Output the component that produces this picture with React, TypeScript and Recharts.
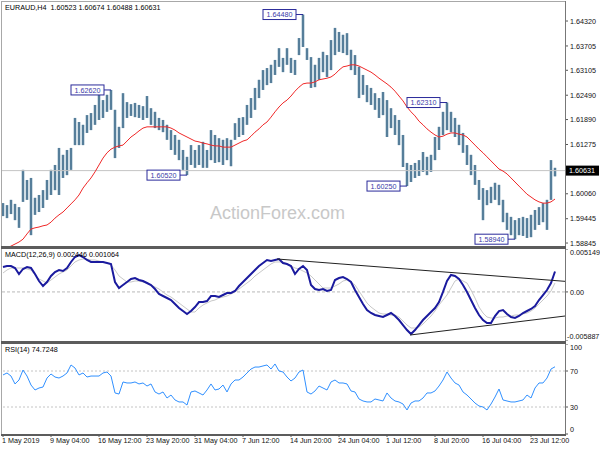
import { ComposedChart, Bar, Line, XAxis, YAxis, ReferenceLine, ReferenceDot } from "recharts";

// EURAUD H4, one entry per bar (left to right)
const highs = [
  1.5983, 1.5978, 1.5991, 1.5981, 1.5973, 1.6065, 1.604, 1.6045, 1.5996, 1.6003,
  1.6015, 1.604, 1.6065, 1.6077, 1.6119, 1.6102, 1.6114, 1.6119, 1.6193, 1.6183,
  1.6176, 1.62, 1.6205, 1.6225, 1.625, 1.6237, 1.625, 1.6262, 1.6213, 1.6171,
  1.6254, 1.6232, 1.6227, 1.623, 1.6225, 1.6222, 1.6247, 1.6217, 1.6208, 1.6193,
  1.6188, 1.6176, 1.6163, 1.6151, 1.6139, 1.6114, 1.6097, 1.6126, 1.6114, 1.6126,
  1.6134, 1.6114, 1.6163, 1.6151, 1.6143, 1.6139, 1.6143, 1.6139, 1.618, 1.6193,
  1.6195, 1.6225, 1.6242, 1.6267, 1.6287, 1.6311, 1.6316, 1.6324, 1.6336, 1.6365,
  1.6341, 1.6365, 1.6341, 1.6336, 1.639, 1.6448, 1.6365, 1.6343, 1.6324, 1.6341,
  1.6356, 1.6348, 1.6385, 1.6415, 1.6405, 1.6398, 1.6402, 1.6361, 1.6348, 1.6319,
  1.6299, 1.6274, 1.6267, 1.6254, 1.6242, 1.6257, 1.6237, 1.6217, 1.62, 1.6188,
  1.6151, 1.6082, 1.6077, 1.6082, 1.6089, 1.6109, 1.6097, 1.6102, 1.6146, 1.6171,
  1.6208, 1.6231, 1.6208, 1.6193, 1.6176, 1.6156, 1.6126, 1.6102, 1.6077, 1.604,
  1.602, 1.6015, 1.6023, 1.6033, 1.6028, 1.5991, 1.5959, 1.5949, 1.5941, 1.5946,
  1.5949, 1.5946, 1.5954, 1.5966, 1.5973, 1.5983, 1.5991, 1.6089, 1.607,
];
const lows = [
  1.5951, 1.5946, 1.5956, 1.5941, 1.5922, 1.5986, 1.5991, 1.5904, 1.5954, 1.5961,
  1.5971, 1.5991, 1.6003, 1.6015, 1.6003, 1.6045, 1.6052, 1.6065, 1.6126, 1.6126,
  1.6126, 1.6156, 1.6163, 1.6176, 1.6188, 1.6193, 1.6208, 1.6213, 1.6094, 1.6119,
  1.6168, 1.6193, 1.6198, 1.6195, 1.6193, 1.6188, 1.6193, 1.6176, 1.6168, 1.6163,
  1.6158, 1.6139, 1.6114, 1.6102, 1.6089, 1.6065, 1.6052, 1.6077, 1.607, 1.6077,
  1.607, 1.607, 1.6089, 1.6082, 1.6084, 1.6077, 1.6089, 1.6074, 1.6139, 1.6146,
  1.6151, 1.6176, 1.6193, 1.6213, 1.6242, 1.6262, 1.6274, 1.6279, 1.6299, 1.6319,
  1.6306, 1.6324, 1.6304, 1.6299, 1.6348, 1.6368, 1.6336, 1.6267, 1.6269, 1.6287,
  1.6306, 1.6294, 1.6311, 1.6348, 1.6356, 1.6353, 1.6348, 1.6311, 1.6299, 1.6242,
  1.625, 1.6232, 1.6225, 1.6213, 1.6193, 1.62, 1.6146, 1.6168, 1.6151, 1.6126,
  1.6072, 1.6025, 1.6035, 1.6045, 1.605, 1.606, 1.6052, 1.606, 1.6089, 1.6114,
  1.6151, 1.6163, 1.6158, 1.6146, 1.6126, 1.6107, 1.6077, 1.6052, 1.6028, 1.5991,
  1.5941, 1.5978, 1.5983, 1.5991, 1.5978, 1.5936, 1.5917, 1.5904, 1.5894, 1.5904,
  1.5902, 1.5897, 1.5899, 1.5917, 1.5929, 1.5936, 1.5917, 1.5991, 1.6049,
];
const ma = [
  1.5867, 1.5872, 1.5877, 1.5882, 1.5887, 1.5894, 1.5907, 1.5919, 1.5922, 1.5924,
  1.5927, 1.5929, 1.5936, 1.5946, 1.5954, 1.5961, 1.5971, 1.5981, 1.5991, 1.6003,
  1.602, 1.6033, 1.6045, 1.606, 1.6077, 1.6094, 1.6107, 1.6116, 1.6121, 1.6124,
  1.6126, 1.6136, 1.6146, 1.6153, 1.6161, 1.6168, 1.6171, 1.6171, 1.6171, 1.6171,
  1.6171, 1.6171, 1.6168, 1.6163, 1.6156, 1.6151, 1.6146, 1.6141, 1.6136, 1.6134,
  1.6131, 1.6129, 1.6126, 1.6124, 1.6124, 1.6121, 1.6121, 1.6121, 1.6126, 1.6131,
  1.6136, 1.6139, 1.6148, 1.6158, 1.6166, 1.6176, 1.6183, 1.6195, 1.6208, 1.622,
  1.623, 1.6237, 1.6247, 1.6259, 1.6269, 1.6277, 1.6279, 1.6279, 1.6282, 1.6287,
  1.6289, 1.6291, 1.6294, 1.6301, 1.6311, 1.6319, 1.6321, 1.6324, 1.6324, 1.6321,
  1.6316, 1.6311, 1.6306, 1.6299, 1.6291, 1.6284, 1.6277, 1.6269, 1.6259, 1.6247,
  1.6235, 1.622, 1.6208, 1.6198, 1.6185, 1.6176, 1.6166, 1.6158, 1.6151, 1.6146,
  1.6148, 1.6153, 1.6156, 1.6156, 1.6153, 1.6151, 1.6146, 1.6136, 1.6126, 1.6116,
  1.6107, 1.6097, 1.6087, 1.6077, 1.6067, 1.6062, 1.6055, 1.6045, 1.6035, 1.6025,
  1.6015, 1.6005, 1.5998, 1.5991, 1.5986, 1.5983, 1.5983, 1.5986, 1.5993,
];
const macd = [
  0.00299, 0.00311, 0.00311, 0.00287, 0.00215, 0.00275, 0.00299, 0.00287, 0.00215, 0.00131,
  0.00071, 0.00119, 0.00191, 0.00239, 0.00263, 0.00251, 0.00287, 0.00359, 0.00419, 0.00443,
  0.00419, 0.00383, 0.00359, 0.00359, 0.00359, 0.00359, 0.00347, 0.00335, 0.00119, 0.00047,
  0.00083, 0.00119, 0.00155, 0.00167, 0.00143, 0.00131, 0.00107, 0.00083, 0.00035, -0.00025,
  -0.00049, -0.00073, -0.00097, -0.00145, -0.00193, -0.00229, -0.00265, -0.00229, -0.00181, -0.00121,
  -0.00121, -0.00109, -0.00049, -0.00049, -0.00061, -0.00037, -0.00013, -0.00013, 0.00011, 0.00071,
  0.00119, 0.00167, 0.00215, 0.00263, 0.00311, 0.00347, 0.00383, 0.00371, 0.00383, 0.00395,
  0.00347, 0.00335, 0.00311, 0.00215, 0.00275, 0.00311, 0.00263, 0.00083, 0.00035, 0.00023,
  0.00035, 0.00011, 0.00023, 0.00143, 0.00167, 0.00179, 0.00155, 0.00119, 0.00023, -0.00061,
  -0.00145, -0.00217, -0.00253, -0.00277, -0.00289, -0.00301, -0.00277, -0.00253, -0.00289, -0.00337,
  -0.00397, -0.00457, -0.00505, -0.00457, -0.00397, -0.00337, -0.00289, -0.00241, -0.00193, -0.00121,
  0.0, 0.00131, 0.00203, 0.00191, 0.00155, 0.00083, -0.00001, -0.00097, -0.00193, -0.00277,
  -0.00337, -0.00373, -0.00373, -0.00289, -0.00229, -0.00217, -0.00265, -0.00301, -0.00313, -0.00289,
  -0.00253, -0.00229, -0.00205, -0.00169, -0.00097, -0.00037, 0.00023, 0.00107, 0.00245,
];
const signal = [
  0.00227, 0.00263, 0.00287, 0.00287, 0.00287, 0.00287, 0.00275, 0.00263, 0.00203, 0.00155,
  0.00131, 0.00107, 0.00143, 0.00179, 0.00215, 0.00239, 0.00263, 0.00311, 0.00359, 0.00383,
  0.00395, 0.00395, 0.00383, 0.00383, 0.00371, 0.00359, 0.00347, 0.00323, 0.00263, 0.00191,
  0.00155, 0.00119, 0.00119, 0.00131, 0.00131, 0.00119, 0.00107, 0.00083, 0.00059, 0.00035,
  -0.00001, -0.00037, -0.00061, -0.00097, -0.00133, -0.00169, -0.00205, -0.00241, -0.00241, -0.00193,
  -0.00157, -0.00133, -0.00109, -0.00097, -0.00073, -0.00061, -0.00049, -0.00025, -0.00001, 0.00035,
  0.00071, 0.00107, 0.00143, 0.00191, 0.00227, 0.00263, 0.00299, 0.00335, 0.00359, 0.00359,
  0.00359, 0.00335, 0.00311, 0.00287, 0.00275, 0.00251, 0.00227, 0.00191, 0.00143, 0.00095,
  0.00047, 0.00047, 0.00047, 0.00071, 0.00095, 0.00131, 0.00143, 0.00119, 0.00083, 0.00011,
  -0.00061, -0.00133, -0.00181, -0.00217, -0.00253, -0.00265, -0.00265, -0.00277, -0.00277, -0.00301,
  -0.00349, -0.00397, -0.00433, -0.00433, -0.00421, -0.00385, -0.00337, -0.00289, -0.00229, -0.00157,
  -0.00097, -0.00037, 0.00047, 0.00131, 0.00155, 0.00131, 0.00107, 0.00023, -0.00073, -0.00181,
  -0.00253, -0.00301, -0.00313, -0.00313, -0.00301, -0.00301, -0.00289, -0.00289, -0.00277, -0.00277,
  -0.00265, -0.00253, -0.00229, -0.00193, -0.00145, -0.00097, -0.00049, 0.00011, 0.00107,
];
const rsi = [
  65.6, 67.8, 64.4, 55.6, 60.0, 71.1, 64.4, 54.4, 48.9, 51.1,
  52.2, 62.2, 66.7, 63.3, 62.2, 64.4, 67.8, 76.7, 73.3, 65.6,
  67.8, 63.3, 64.4, 64.4, 64.4, 67.8, 68.9, 64.4, 45.6, 44.4,
  57.8, 56.7, 56.7, 57.8, 55.6, 56.7, 53.3, 55.6, 46.7, 44.4,
  46.7, 40.0, 43.3, 37.8, 35.6, 35.6, 32.2, 46.7, 47.8, 45.6,
  43.3, 48.9, 55.6, 48.9, 50.0, 54.4, 46.7, 55.6, 60.0, 60.0,
  63.3, 67.8, 72.2, 74.4, 74.4, 75.6, 76.7, 72.2, 77.8, 70.0,
  68.9, 63.3, 58.9, 62.2, 68.9, 71.1, 46.7, 44.4, 47.8, 53.3,
  51.1, 48.9, 57.8, 60.0, 56.7, 56.7, 55.6, 47.8, 46.7, 38.9,
  36.7, 35.6, 35.6, 38.9, 37.8, 36.7, 45.6, 40.0, 36.7, 35.6,
  33.3, 26.7, 34.4, 36.7, 36.7, 40.0, 45.6, 45.6, 47.8, 53.3,
  60.0, 68.9, 62.2, 56.7, 54.4, 46.7, 43.3, 38.9, 34.4, 31.1,
  30.0, 26.7, 33.3, 41.1, 50.0, 37.8, 36.7, 35.6, 35.6, 36.7,
  37.8, 43.3, 40.0, 51.1, 56.7, 56.7, 62.2, 72.2, 74.7,
];

const priceTicks = [1.6432, 1.63705, 1.63105, 1.6249, 1.6189, 1.61275, 1.60631, 1.6006, 1.59445, 1.58845];
const lastClose = 1.60631;
const macdTicks = [0.005149, 0, -0.005887];
const macdTickText = ["0.005149", "0.00", "-0.005887"];
const rsiTicks = [100, 70, 30, 0];
const rsiLevels = [70, 30];
const timeTickIdx = [0, 12, 24, 36, 48, 60, 72, 84, 96, 108, 120, 132];
const timeLabels = [
  "1 May 2019", "9 May 04:00", "16 May 12:00", "23 May 20:00", "31 May 04:00", "7 Jun 12:00",
  "14 Jun 20:00", "24 Jun 04:00", "1 Jul 12:00", "8 Jul 20:00", "16 Jul 04:00", "23 Jul 12:00",
];
// swing highs / lows that carry a price tag
const markIdx = [27, 46, 75, 101, 111, 128];
const markPrice = [1.6262, 1.6052, 1.6448, 1.6025, 1.6231, 1.5894];
// MACD triangle
const trendUpper = [{ x: 68.5, y: 0.00395 }, { x: 140.5, y: 0.00127 }];
const trendLower = [{ x: 101.75, y: -0.00517 }, { x: 140.5, y: -0.00289 }];

const rows = highs.map((h, i) => ({
  i,
  range: [lows[i], h],
  ma: ma[i],
  macd: macd[i],
  signal: signal[i],
  rsi: rsi[i],
}));

const X_DOMAIN: [number, number] = [-0.5, 140.5];
const FONT = '"Liberation Sans", Arial, sans-serif';
const FS = 7.2;
const AXIS_GRAY = "#555";

function PriceBar(p: any) {
  const cx = p.x + p.width / 2;
  const top = Math.min(p.y, p.y + p.height);
  const h = Math.abs(p.height);
  return (
    <g>
      <rect x={cx - 1.6} y={top} width={3.2} height={h} fill="#b3c8d6" />
      <rect x={cx - 0.7} y={top} width={1.4} height={h} fill="#2f5f80" />
    </g>
  );
}

function PriceTick(p: any) {
  const v = p.payload.value;
  if (v === lastClose) {
    return (
      <g>
        <rect x={p.x - 4} y={p.y - 5} width={33} height={10} fill="#000" />
        <text x={p.x - 1} y={p.y + 2.6} fontSize={FS} fill="#fff">{v.toFixed(5)}</text>
      </g>
    );
  }
  return <text x={p.x} y={p.y + 2.6} fontSize={FS} fill="#111">{v.toFixed(5)}</text>;
}

function MacdTick(p: any) {
  const k = macdTicks.indexOf(p.payload.value);
  const last = k === macdTicks.length - 1;
  const dy = k === 0 ? 3.5 : last ? -5 : 0;
  return <text x={last ? p.x - 3 : p.x} y={p.y + dy + 2.6} fontSize={FS} fill="#111">{macdTickText[k]}</text>;
}

function RsiTick(p: any) {
  const v = p.payload.value;
  const dy = v === 100 ? 3 : v === 0 ? -5 : 0;
  return <text x={p.x} y={p.y + dy + 2.6} fontSize={FS} fill="#111">{String(v)}</text>;
}

function TimeTick(p: any) {
  const k = timeTickIdx.indexOf(p.payload.value);
  return <text x={p.x - 1} y={p.y + 4} fontSize={FS} fill="#111">{timeLabels[k]}</text>;
}

const markShape = (text: string) => (p: any) => (
  <g>
    <line x1={p.cx - 7} y1={p.cy} x2={p.cx} y2={p.cy} stroke="#2a2a9a" />
    <rect x={p.cx - 40} y={p.cy - 5} width={33} height={10} fill="#fff" stroke="#2a2a9a" />
    <text x={p.cx - 23.5} y={p.cy + 2.6} textAnchor="middle" fontSize={FS} fill="#3a3aa8">{text}</text>
  </g>
);

const line = (s: any) => <div style={{ position: "absolute", ...s }} />;

export default function App() {
  return (
    <div style={{ position: "absolute", left: 0, top: 0, width: 600, height: 450, background: "#fff", fontFamily: FONT, overflow: "hidden" }}>
      <svg width={600} height={450} style={{ position: "absolute", left: 0, top: 0 }}>
        <text x={210} y={219} fontSize={18} fill="#c8c8c8">ActionForex.com</text>
      </svg>

      <div style={{ position: "absolute", left: 0, top: 0 }}>
        <ComposedChart width={600} height={248} data={rows} margin={{ top: 2, right: 0, bottom: 2, left: 1 }}>
          <XAxis hide type="number" dataKey="i" domain={X_DOMAIN} allowDataOverflow />
          <YAxis orientation="right" width={35} domain={[1.58772, 1.64789]} allowDataOverflow ticks={priceTicks}
            interval={0} axisLine={false} tickSize={3} tickLine={{ stroke: AXIS_GRAY }} tick={PriceTick} />
          <ReferenceLine y={lastClose} stroke="#c4c4c4" />
          <Bar dataKey="range" barSize={2} shape={PriceBar} isAnimationActive={false} />
          <Line dataKey="ma" stroke="#f02828" strokeWidth={1} dot={false} activeDot={false} isAnimationActive={false} />
          {markIdx.map((x, k) => (
            <ReferenceDot key={k} x={x} y={markPrice[k]} r={0} shape={markShape(markPrice[k].toFixed(5))} ifOverflow="visible" />
          ))}
        </ComposedChart>
      </div>

      <div style={{ position: "absolute", left: 0, top: 249 }}>
        <ComposedChart width={600} height={92} data={rows} margin={{ top: 0, right: 0, bottom: 0, left: 1 }}>
          <XAxis hide type="number" dataKey="i" domain={X_DOMAIN} allowDataOverflow />
          <YAxis orientation="right" width={35} domain={[-0.005887, 0.005149]} allowDataOverflow ticks={macdTicks}
            interval={0} axisLine={false} tickSize={3} tickLine={{ stroke: AXIS_GRAY }} tick={MacdTick} />
          <ReferenceLine y={0} stroke="#b8b8b8" strokeDasharray="3 2" />
          <Line dataKey="signal" stroke="#c8c8c8" strokeWidth={1} dot={false} activeDot={false} isAnimationActive={false} />
          <Line dataKey="macd" stroke="#1a1a9e" strokeWidth={2} dot={false} activeDot={false} isAnimationActive={false} />
          <ReferenceLine segment={trendUpper} stroke="#222" strokeWidth={1} ifOverflow="visible" />
          <ReferenceLine segment={trendLower} stroke="#222" strokeWidth={1} ifOverflow="visible" />
        </ComposedChart>
      </div>

      <div style={{ position: "absolute", left: 0, top: 344 }}>
        <ComposedChart width={600} height={106} data={rows} margin={{ top: 0, right: 0, bottom: 0, left: 1 }}>
          <XAxis type="number" dataKey="i" domain={X_DOMAIN} allowDataOverflow ticks={timeTickIdx} interval={0}
            height={16} axisLine={false} tickSize={3} tickLine={{ stroke: AXIS_GRAY }} tick={TimeTick} />
          <YAxis orientation="right" width={35} domain={[0, 100]} ticks={rsiTicks}
            interval={0} axisLine={false} tickSize={3} tickLine={{ stroke: AXIS_GRAY }} tick={RsiTick} />
          {rsiLevels.map((v) => (
            <ReferenceLine key={v} y={v} stroke="#c4c4c4" strokeDasharray="2 2" />
          ))}
          <Line dataKey="rsi" stroke="#3090ff" strokeWidth={1} dot={false} activeDot={false} isAnimationActive={false} />
        </ComposedChart>
      </div>

      {line({ left: 1, top: 1, width: 564, height: 1, background: "#a8a8a8" })}
      {line({ left: 1, top: 1, width: 1, height: 435, background: "#a8a8a8" })}
      {line({ left: 565, top: 1, width: 1, height: 435, background: "#777" })}
      {line({ left: 1, top: 246, width: 565, height: 3, background: "#5c5c5c" })}
      {line({ left: 1, top: 341, width: 565, height: 3, background: "#5c5c5c" })}
      {line({ left: 1, top: 434, width: 565, height: 2, background: "#5c5c5c" })}

      <svg width={600} height={450} style={{ position: "absolute", left: 0, top: 0, pointerEvents: "none" }}>
        <text x={5} y={10} fontSize={FS} fill="#000" style={{ whiteSpace: "pre" }}>EURAUD,H4  1.60523 1.60674 1.60488 1.60631</text>
        <text x={5} y={257} fontSize={FS} fill="#000">MACD(12,26,9) 0.002446 0.001064</text>
        <text x={5} y={352} fontSize={FS} fill="#000">RSI(14) 74.7248</text>
      </svg>
    </div>
  );
}
